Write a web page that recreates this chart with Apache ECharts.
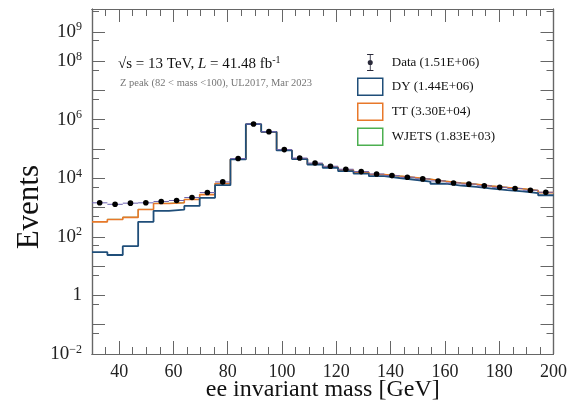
<!DOCTYPE html>
<html>
<head>
<meta charset="utf-8">
<script src="https://cdn.jsdelivr.net/npm/echarts@6/dist/echarts.min.js"></script>
<style>
  html, body { margin: 0; padding: 0; background: #fff; }
  #main { width: 570px; height: 413px; }
</style>
</head>
<body>
<div id="main"></div>
<script>
// binning: 30 bins from 30 to 200 GeV
var xMin = 30, xMax = 200, nBins = 30;
// events per bin
var dataVals = [1450, 1290, 1410, 1450, 1610, 1740, 2200, 3250, 7500, 47000,
  710000, 390000, 95000, 49000, 33000, 25700, 20300, 16900, 14000, 12300,
  10800, 9500, 8100, 6900, 6300, 5500, 4900, 4450, 3900, 3330];
var dyVals = [30, 24, 48, 325, 770, 855, 1140, 2140, 5800, 44000,
  700000, 382000, 89000, 45000, 29500, 22500, 17500, 14400, 11800, 10200,
  8900, 7700, 6500, 5600, 5100, 4400, 3950, 3550, 3100, 2630];
var ttVals = [295, 366, 412, 530, 610, 595, 740, 630, 800, 900,
  1000, 1050, 1100, 1150, 1300, 1400, 1500, 1600, 1650, 1700,
  1650, 1600, 1450, 1250, 1150, 1000, 900, 820, 720, 600];
var wjVals = [6, 6, 7, 8, 10, 12, 15, 20, 40, 80,
  420, 300, 150, 90, 60, 50, 45, 40, 40, 35,
  35, 30, 30, 25, 25, 20, 20, 20, 15, 15];

var legendNames = ['Data (1.51E+06)', 'DY (1.44E+06)', 'TT (3.30E+04)', 'WJETS (1.83E+03)'];

// ticks and labels
var xLabelValues = [40, 60, 80, 100, 120, 140, 160, 180, 200];
var xMajorTicks = [40, 60, 80, 100, 120, 140, 160, 180];
var xMinorTicks = [35, 45, 50, 55, 65, 70, 75, 85, 90, 95, 105, 110, 115, 125, 130, 135,
  145, 150, 155, 165, 170, 175, 185, 190, 195];
var yLabelValues = [1e-2, 1, 1e2, 1e4, 1e6, 1e8, 1e9];
var yMajorTicks = [1e-2, 1e-1, 1, 1e1, 1e2, 1e3, 1e4, 1e5, 1e6, 1e7, 1e8, 1e9];
var yMinorTicks = [5e-2, 5e-1, 5, 5e1, 5e2, 5e3, 5e4, 5e5, 5e6, 5e7, 5e8, 5e9];
var yMin = 1e-2, yMax = 6e9;

var SERIF = '"Liberation Serif", "DejaVu Serif", serif';
var AXIS_COLOR = '#666';

var binW = (xMax - xMin) / nBins;
var edges = [];
for (var i = 0; i <= nBins; i++) edges.push(xMin + i * binW);

// stacked totals (DY, DY+TT, DY+TT+WJETS) as step outlines
function stepPoints(vals) {
  var pts = [];
  vals.forEach(function (v, i) { pts.push([edges[i], v]); });
  pts.push([edges[nBins], vals[nBins - 1]]);
  return pts;
}
var dyTT = dyVals.map(function (v, i) { return v + ttVals[i]; });
var total = dyTT.map(function (v, i) { return v + wjVals[i]; });

var dataItems = dataVals.map(function (v, i) { return [edges[i], edges[i + 1], v]; });

function yLabel(v) {
  var e = Math.round(Math.log10(v));
  if (e === 0) return '{b|1}';
  return '{b|10}{s|' + (e < 0 ? '\u2212' + (-e) : e) + '}';
}

function xAxisTicks(pos, ticks, len, withLabels) {
  return {
    type: 'value', position: pos, min: xMin, max: xMax,
    axisLine: { show: true, onZero: false, lineStyle: { color: AXIS_COLOR, width: 1.2 } },
    axisTick: { show: true, inside: true, length: len, customValues: ticks,
      lineStyle: { color: AXIS_COLOR, width: 1 } },
    axisLabel: withLabels ? { show: true, customValues: xLabelValues, margin: 9,
      fontFamily: SERIF, fontSize: 18, color: '#222' } : { show: false },
    splitLine: { show: false }
  };
}
function yAxisTicks(pos, ticks, len, withLabels) {
  return {
    type: 'log', logBase: 10, position: pos, min: yMin, max: yMax,
    axisLine: { show: true, onZero: false, lineStyle: { color: AXIS_COLOR, width: 1.2 } },
    axisTick: { show: true, inside: true, length: len, customValues: ticks,
      lineStyle: { color: AXIS_COLOR, width: 1 } },
    axisLabel: withLabels ? { show: true, customValues: yLabelValues, margin: 10,
      formatter: yLabel,
      rich: {
        b: { fontFamily: SERIF, fontSize: 19, color: '#222' },
        s: { fontFamily: SERIF, fontSize: 12, color: '#222', verticalAlign: 'top', padding: [0, 0, 9, 0] }
      } } : { show: false },
    splitLine: { show: false }
  };
}

var xAx0 = xAxisTicks('bottom', xMajorTicks, 13, true);
xAx0.name = 'ee invariant mass [GeV]';
xAx0.nameLocation = 'middle';
xAx0.nameGap = 24;
xAx0.nameMoveOverlap = false;
xAx0.nameTextStyle = { fontFamily: SERIF, fontSize: 24, color: '#111' };

var myChart = echarts.init(document.getElementById('main'));
var option = {
  backgroundColor: '#fff',
  animation: false,
  grid: { left: 92, right: 16, top: 9, bottom: 59, containLabel: false },
  xAxis: [
    xAx0,
    xAxisTicks('bottom', xMinorTicks, 7, false),
    xAxisTicks('top', xMajorTicks, 13, false),
    xAxisTicks('top', xMinorTicks, 7, false)
  ],
  yAxis: [
    yAxisTicks('left', yMajorTicks, 13, true),
    yAxisTicks('left', yMinorTicks, 7, false),
    yAxisTicks('right', yMajorTicks, 13, false),
    yAxisTicks('right', yMinorTicks, 7, false)
  ],
  legend: {
    orient: 'vertical', left: 352, top: 49,
    itemWidth: 25, itemHeight: 17, itemGap: 6.5,
    selectedMode: false,
    textStyle: { fontFamily: SERIF, fontSize: 13, color: '#111', padding: [0, 0, 0, 4] },
    data: [
      { name: legendNames[0],
        icon: 'path://M0,0H6V1H3.4V15H6V16H0V15H2.6V1H0Z M3,5.6A2.4,2.4 0 1 1 2.99,5.6Z',
        itemStyle: { color: '#2a2a3a', borderWidth: 0 } },
      { name: legendNames[1], icon: 'rect', itemStyle: { color: '#fff', borderColor: '#1f4e79', borderWidth: 1.5 } },
      { name: legendNames[2], icon: 'rect', itemStyle: { color: '#fff', borderColor: '#e8782a', borderWidth: 1.5 } },
      { name: legendNames[3], icon: 'rect', itemStyle: { color: '#fff', borderColor: '#4caf50', borderWidth: 1.5 } }
    ]
  },
  graphic: [
    { type: 'text', left: 118, top: 55,
      style: { text: '{a|\u221As = 13 TeV, }{i|L}{a| = 41.48 fb}{s|-1}',
        rich: {
          a: { fontFamily: SERIF, fontSize: 15, fill: '#111' },
          i: { fontFamily: SERIF, fontSize: 15, fontStyle: 'italic', fill: '#111' },
          s: { fontFamily: SERIF, fontSize: 10, fill: '#111', verticalAlign: 'top', padding: [0, 0, 8, 0] }
        } } },
    { type: 'text', left: 120, top: 78,
      style: { text: 'Z peak (82 < mass <100), UL2017, Mar 2023',
        fontFamily: SERIF, fontSize: 10.5, fill: '#777' } },
    { type: 'text', left: 14, top: 165, rotation: Math.PI / 2,
      style: { text: 'Events', fontFamily: SERIF, fontSize: 31, fill: '#111' } }
  ],
  series: [
    { name: legendNames[3], type: 'line', step: 'end', symbol: 'none', z: 2,
      data: stepPoints(total), lineStyle: { color: '#4caf50', width: 1 }, itemStyle: { color: '#4caf50' } },
    { name: legendNames[2], type: 'line', step: 'end', symbol: 'none', z: 3,
      data: stepPoints(dyTT), lineStyle: { color: '#e8782a', width: 1.6 }, itemStyle: { color: '#e8782a' } },
    { name: legendNames[1], type: 'line', step: 'end', symbol: 'none', z: 4,
      data: stepPoints(dyVals), lineStyle: { color: '#1f4e79', width: 1.8 }, itemStyle: { color: '#1f4e79' } },
    { name: legendNames[0], type: 'custom', z: 5,
      encode: { x: [0, 1], y: 2 },
      data: dataItems,
      renderItem: function (params, api) {
        var lo = api.coord([api.value(0), api.value(2)]);
        var hi = api.coord([api.value(1), api.value(2)]);
        var cx = (lo[0] + hi[0]) / 2;
        return {
          type: 'group',
          children: [
            { type: 'line', shape: { x1: lo[0], y1: lo[1], x2: hi[0], y2: hi[1] },
              style: { stroke: '#6c62b0', lineWidth: 1 } },
            { type: 'circle', shape: { cx: cx, cy: lo[1], r: 2.8 },
              style: { fill: '#000' } }
          ]
        };
      },
      itemStyle: { color: '#2a2a3a' }
    }
  ]
};
myChart.setOption(option);
</script>
</body>
</html>
